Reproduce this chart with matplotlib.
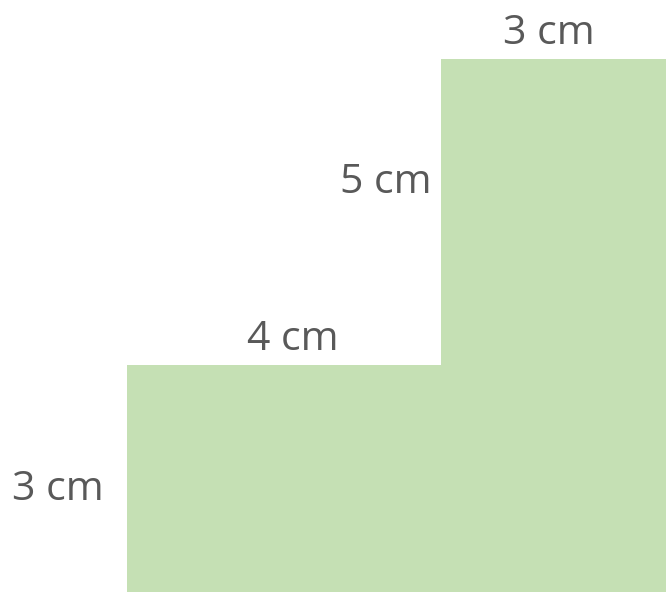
import matplotlib
matplotlib.use("Agg")
import matplotlib.pyplot as plt
from matplotlib.patches import Polygon

# Dimension labels (cm) of the stepped shape
edge_names = ["top width", "upper step height", "step width", "lower height"]
edge_lengths_cm = [3, 5, 4, 3]
edge_labels = [f"{v} cm" for v in edge_lengths_cm]

# Layout (pixel-like drawing coordinates, not data)
x_left, x_step, x_right = 127, 441, 666
y_top, y_step, y_bottom = 59, 365, 592
W, H = 666, 592

fill_color = "#c5e0b4"
text_color = "#595959"

fig = plt.figure(figsize=(W / 100, H / 100), dpi=100)
ax = fig.add_axes([0, 0, 1, 1])
ax.set_xlim(0, W)
ax.set_ylim(H, 0)
ax.axis("off")

verts = [(x_left, y_bottom), (x_left, y_step), (x_step, y_step), (x_step, y_top),
         (x_right, y_top), (x_right, y_bottom)]
ax.add_patch(Polygon(verts, closed=True, facecolor=fill_color, edgecolor="none"))

font = dict(family="Open Sans", fontsize=29.5, color=text_color, va="baseline")
# top width
ax.text((x_step + x_right) / 2 - 5, y_top - 15, edge_labels[0], ha="center", **font)
# upper step height
ax.text(x_step - 9, y_top + 134, edge_labels[1], ha="right", **font)
# step width
ax.text((x_left + x_step) / 2 + 9, y_step - 15, edge_labels[2], ha="center", **font)
# lower height
ax.text(x_left - 23, y_step + 135, edge_labels[3], ha="right", **font)

fig.savefig("out.png", dpi=100)
